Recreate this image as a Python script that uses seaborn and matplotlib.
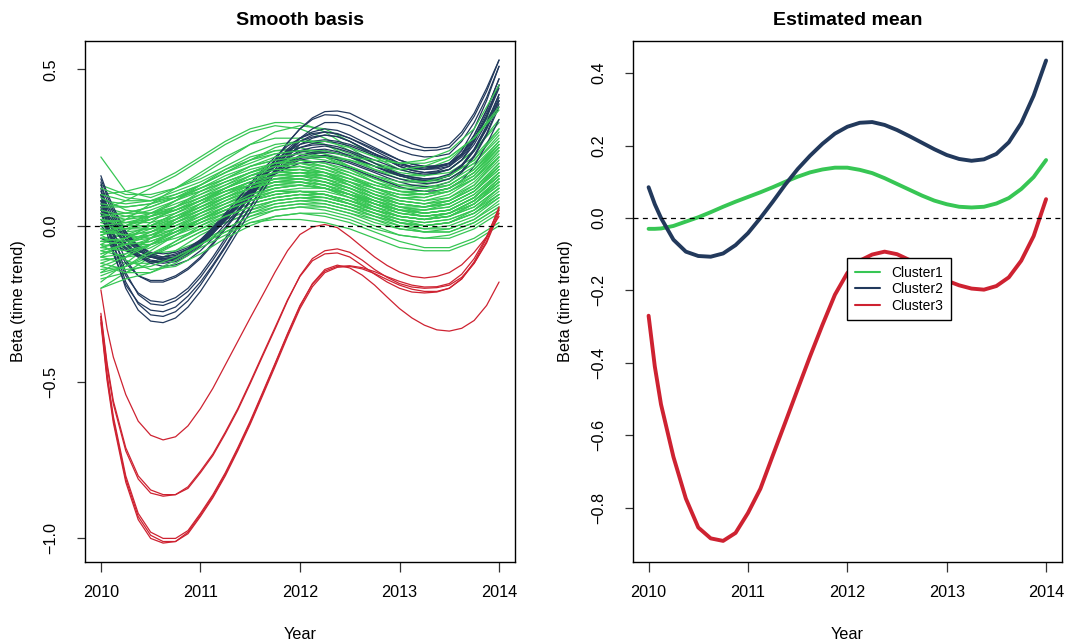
import numpy as np
import pandas as pd
import matplotlib
matplotlib.use("Agg")
import matplotlib.pyplot as plt
from matplotlib.lines import Line2D
import seaborn as sns

# ---------------------------------------------------------------- data
# quarterly grid for the cluster-1 basis curves
year_q = [2010.0, 2010.25, 2010.5, 2010.75, 2011.0, 2011.25, 2011.5, 2011.75,
          2012.0, 2012.25, 2012.5, 2012.75, 2013.0, 2013.25, 2013.5, 2013.75, 2014.0]

# eighth-of-a-year grid (plus one extra point after the start) for cluster 2/3 curves and the means
year_e = [2010.0, 2010.0625, 2010.125, 2010.25, 2010.375, 2010.5, 2010.625, 2010.75, 2010.875,
          2011.0, 2011.125, 2011.25, 2011.375, 2011.5, 2011.625, 2011.75, 2011.875,
          2012.0, 2012.125, 2012.25, 2012.375, 2012.5, 2012.625, 2012.75, 2012.875,
          2013.0, 2013.125, 2013.25, 2013.375, 2013.5, 2013.625, 2013.75, 2013.875, 2014.0]

cluster1_curves = [
    [0.22, 0.11, 0.09, 0.12, 0.16, 0.21, 0.26, 0.30, 0.32, 0.31, 0.27, 0.22, 0.18, 0.16, 0.17, 0.22, 0.31],
    [0.10, 0.11, 0.13, 0.17, 0.22, 0.27, 0.31, 0.33, 0.33, 0.30, 0.25, 0.20, 0.16, 0.14, 0.15, 0.20, 0.29],
    [0.05, 0.08, 0.12, 0.16, 0.21, 0.26, 0.30, 0.32, 0.31, 0.28, 0.24, 0.20, 0.17, 0.16, 0.18, 0.24, 0.34],
    [0.13, 0.10, 0.10, 0.12, 0.15, 0.19, 0.23, 0.26, 0.27, 0.26, 0.23, 0.20, 0.18, 0.18, 0.21, 0.28, 0.40],
    [-0.02, 0.02, 0.07, 0.12, 0.17, 0.22, 0.26, 0.28, 0.28, 0.26, 0.22, 0.18, 0.15, 0.14, 0.16, 0.21, 0.30],
    [0.08, 0.07, 0.08, 0.11, 0.14, 0.18, 0.21, 0.23, 0.24, 0.23, 0.21, 0.18, 0.16, 0.16, 0.18, 0.24, 0.33],
    [0.04, 0.04, 0.06, 0.09, 0.13, 0.17, 0.21, 0.24, 0.25, 0.23, 0.19, 0.15, 0.12, 0.11, 0.13, 0.18, 0.27],
    [-0.06, -0.02, 0.03, 0.08, 0.13, 0.18, 0.22, 0.24, 0.24, 0.22, 0.18, 0.14, 0.11, 0.10, 0.12, 0.17, 0.26],
    [0.02, 0.03, 0.05, 0.08, 0.11, 0.14, 0.17, 0.20, 0.21, 0.20, 0.18, 0.15, 0.13, 0.13, 0.15, 0.20, 0.28],
    [-0.10, -0.05, 0.01, 0.06, 0.11, 0.15, 0.19, 0.21, 0.21, 0.19, 0.16, 0.12, 0.09, 0.08, 0.09, 0.13, 0.21],
    [0.06, 0.04, 0.04, 0.06, 0.09, 0.12, 0.15, 0.18, 0.19, 0.18, 0.16, 0.13, 0.11, 0.10, 0.12, 0.16, 0.24],
    [-0.04, -0.03, 0.00, 0.04, 0.08, 0.12, 0.16, 0.19, 0.20, 0.19, 0.16, 0.12, 0.09, 0.08, 0.10, 0.15, 0.24],
    [0.00, 0.00, 0.02, 0.05, 0.08, 0.11, 0.14, 0.16, 0.17, 0.16, 0.14, 0.11, 0.09, 0.09, 0.11, 0.16, 0.25],
    [-0.15, -0.10, -0.04, 0.02, 0.07, 0.12, 0.16, 0.18, 0.19, 0.17, 0.14, 0.10, 0.07, 0.06, 0.07, 0.11, 0.19],
    [0.03, 0.01, 0.01, 0.03, 0.06, 0.09, 0.12, 0.15, 0.16, 0.15, 0.13, 0.10, 0.08, 0.07, 0.08, 0.12, 0.19],
    [-0.07, -0.05, -0.02, 0.02, 0.06, 0.10, 0.14, 0.16, 0.17, 0.16, 0.13, 0.10, 0.07, 0.06, 0.07, 0.11, 0.18],
    [-0.01, -0.02, -0.01, 0.02, 0.05, 0.08, 0.11, 0.14, 0.15, 0.14, 0.12, 0.09, 0.07, 0.06, 0.08, 0.13, 0.22],
    [-0.12, -0.09, -0.04, 0.01, 0.05, 0.09, 0.13, 0.15, 0.16, 0.15, 0.12, 0.09, 0.06, 0.05, 0.06, 0.10, 0.17],
    [0.01, -0.01, -0.01, 0.01, 0.04, 0.07, 0.10, 0.12, 0.13, 0.12, 0.10, 0.08, 0.06, 0.06, 0.08, 0.12, 0.20],
    [-0.05, -0.05, -0.03, 0.00, 0.04, 0.07, 0.10, 0.13, 0.14, 0.13, 0.11, 0.08, 0.05, 0.04, 0.05, 0.09, 0.16],
    [-0.09, -0.07, -0.04, -0.01, 0.03, 0.07, 0.11, 0.13, 0.14, 0.13, 0.10, 0.07, 0.04, 0.03, 0.04, 0.08, 0.15],
    [-0.02, -0.04, -0.03, -0.01, 0.02, 0.05, 0.08, 0.11, 0.12, 0.12, 0.10, 0.08, 0.06, 0.05, 0.06, 0.10, 0.17],
    [-0.18, -0.12, -0.06, -0.01, 0.04, 0.08, 0.11, 0.13, 0.13, 0.12, 0.09, 0.06, 0.03, 0.02, 0.03, 0.07, 0.14],
    [-0.06, -0.07, -0.05, -0.02, 0.01, 0.05, 0.08, 0.10, 0.11, 0.10, 0.08, 0.05, 0.03, 0.02, 0.04, 0.08, 0.15],
    [0.00, -0.03, -0.04, -0.02, 0.01, 0.04, 0.07, 0.09, 0.10, 0.10, 0.08, 0.06, 0.04, 0.03, 0.04, 0.07, 0.13],
    [-0.11, -0.10, -0.07, -0.03, 0.01, 0.04, 0.07, 0.09, 0.10, 0.09, 0.07, 0.04, 0.01, 0.00, 0.01, 0.05, 0.12],
    [-0.04, -0.06, -0.06, -0.04, -0.01, 0.02, 0.05, 0.08, 0.09, 0.09, 0.07, 0.05, 0.03, 0.02, 0.03, 0.06, 0.12],
    [-0.20, -0.15, -0.10, -0.05, 0.00, 0.04, 0.07, 0.09, 0.10, 0.09, 0.07, 0.04, 0.02, 0.01, 0.02, 0.05, 0.11],
    [-0.08, -0.10, -0.09, -0.06, -0.02, 0.01, 0.04, 0.07, 0.08, 0.08, 0.06, 0.04, 0.02, 0.01, 0.02, 0.05, 0.10],
    [-0.14, -0.13, -0.10, -0.06, -0.02, 0.02, 0.05, 0.07, 0.08, 0.07, 0.05, 0.02, 0.00, -0.01, 0.00, 0.03, 0.09],
    [-0.03, -0.07, -0.09, -0.08, -0.05, -0.01, 0.03, 0.06, 0.07, 0.07, 0.05, 0.03, 0.01, 0.00, 0.01, 0.04, 0.09],
    [-0.17, -0.15, -0.12, -0.08, -0.03, 0.01, 0.04, 0.06, 0.07, 0.06, 0.04, 0.01, -0.01, -0.02, -0.01, 0.02, 0.07],
    [-0.10, -0.12, -0.12, -0.10, -0.06, -0.02, 0.02, 0.05, 0.06, 0.06, 0.04, 0.02, -0.01, -0.02, -0.02, 0.01, 0.06],
    [-0.20, -0.17, -0.15, -0.11, -0.06, -0.01, 0.03, 0.05, 0.06, 0.05, 0.03, 0.00, -0.03, -0.04, -0.03, 0.00, 0.05],
    [-0.06, -0.11, -0.14, -0.13, -0.09, -0.04, 0.00, 0.03, 0.04, 0.04, 0.02, -0.01, -0.03, -0.04, -0.04, -0.01, 0.04],
    [-0.13, -0.15, -0.15, -0.12, -0.07, -0.03, 0.01, 0.03, 0.04, 0.03, 0.01, -0.02, -0.05, -0.07, -0.07, -0.04, 0.01],
    [0.07, 0.06, 0.07, 0.10, 0.13, 0.17, 0.20, 0.23, 0.24, 0.24, 0.22, 0.21, 0.20, 0.21, 0.24, 0.31, 0.45],
    [0.12, 0.09, 0.08, 0.09, 0.11, 0.14, 0.17, 0.20, 0.22, 0.22, 0.21, 0.19, 0.18, 0.19, 0.22, 0.28, 0.38],
    [-0.03, 0.00, 0.04, 0.08, 0.12, 0.16, 0.19, 0.21, 0.22, 0.21, 0.19, 0.16, 0.14, 0.14, 0.16, 0.21, 0.31],
    [0.04, 0.02, 0.03, 0.05, 0.08, 0.11, 0.13, 0.15, 0.15, 0.14, 0.11, 0.08, 0.05, 0.04, 0.05, 0.09, 0.17],
    [-0.08, -0.06, -0.03, 0.01, 0.05, 0.09, 0.12, 0.14, 0.14, 0.12, 0.09, 0.05, 0.02, 0.00, 0.01, 0.04, 0.10],
    [0.00, 0.01, 0.03, 0.06, 0.10, 0.14, 0.17, 0.19, 0.19, 0.17, 0.13, 0.09, 0.06, 0.04, 0.05, 0.09, 0.16],
    [-0.05, -0.04, -0.01, 0.03, 0.07, 0.11, 0.14, 0.16, 0.16, 0.14, 0.11, 0.07, 0.04, 0.03, 0.04, 0.08, 0.14],
    [0.02, 0.00, 0.00, 0.02, 0.05, 0.09, 0.12, 0.14, 0.15, 0.14, 0.12, 0.09, 0.07, 0.06, 0.07, 0.11, 0.19],
    [-0.16, -0.13, -0.08, -0.03, 0.02, 0.06, 0.09, 0.11, 0.11, 0.10, 0.07, 0.04, 0.01, -0.01, -0.01, 0.02, 0.08],
    [-0.01, -0.03, -0.02, 0.00, 0.03, 0.06, 0.09, 0.11, 0.11, 0.10, 0.08, 0.05, 0.03, 0.02, 0.03, 0.07, 0.14],
    [0.09, 0.05, 0.04, 0.05, 0.08, 0.11, 0.14, 0.17, 0.18, 0.17, 0.15, 0.12, 0.10, 0.10, 0.12, 0.17, 0.25],
    [-0.07, -0.08, -0.06, -0.03, 0.00, 0.03, 0.06, 0.08, 0.09, 0.08, 0.06, 0.03, 0.00, -0.02, -0.02, 0.01, 0.06],
    [-0.12, -0.14, -0.13, -0.10, -0.06, -0.02, 0.01, 0.02, 0.02, 0.01, -0.01, -0.04, -0.07, -0.08, -0.08, -0.05, 0.00],
    [-0.04, -0.05, -0.04, -0.01, 0.02, 0.06, 0.09, 0.12, 0.13, 0.12, 0.10, 0.07, 0.04, 0.03, 0.04, 0.08, 0.14],
    [0.03, 0.04, 0.06, 0.09, 0.12, 0.15, 0.18, 0.20, 0.20, 0.18, 0.15, 0.12, 0.10, 0.09, 0.11, 0.15, 0.23],
    [-0.03, -0.01, 0.02, 0.05, 0.09, 0.13, 0.17, 0.20, 0.21, 0.20, 0.17, 0.14, 0.11, 0.10, 0.11, 0.15, 0.22],
    [0.05, 0.03, 0.03, 0.05, 0.08, 0.12, 0.16, 0.19, 0.20, 0.19, 0.17, 0.14, 0.12, 0.12, 0.14, 0.19, 0.27],
    [-0.09, -0.06, -0.02, 0.02, 0.06, 0.10, 0.13, 0.15, 0.15, 0.13, 0.10, 0.06, 0.03, 0.02, 0.03, 0.07, 0.13],
    [0.01, 0.02, 0.04, 0.07, 0.10, 0.13, 0.16, 0.18, 0.18, 0.16, 0.13, 0.10, 0.08, 0.07, 0.09, 0.14, 0.22],
    [-0.02, -0.03, -0.02, 0.01, 0.04, 0.08, 0.12, 0.15, 0.16, 0.16, 0.14, 0.12, 0.10, 0.10, 0.12, 0.17, 0.25],
    [-0.13, -0.10, -0.06, -0.02, 0.02, 0.06, 0.10, 0.12, 0.13, 0.12, 0.10, 0.07, 0.05, 0.04, 0.05, 0.09, 0.16],
    [0.06, 0.06, 0.07, 0.09, 0.12, 0.15, 0.19, 0.22, 0.23, 0.22, 0.19, 0.16, 0.13, 0.12, 0.13, 0.18, 0.26],
    [-0.05, -0.06, -0.05, -0.02, 0.02, 0.05, 0.08, 0.10, 0.11, 0.11, 0.09, 0.07, 0.05, 0.05, 0.07, 0.11, 0.18],
    [0.00, -0.01, 0.00, 0.03, 0.06, 0.09, 0.12, 0.14, 0.14, 0.13, 0.10, 0.07, 0.05, 0.04, 0.05, 0.09, 0.16],
    [-0.07, -0.04, 0.00, 0.04, 0.08, 0.12, 0.15, 0.17, 0.18, 0.17, 0.14, 0.11, 0.08, 0.07, 0.08, 0.12, 0.20],
    [0.02, 0.01, 0.02, 0.04, 0.07, 0.10, 0.13, 0.16, 0.17, 0.17, 0.15, 0.13, 0.11, 0.11, 0.13, 0.18, 0.26],
    [-0.10, -0.09, -0.06, -0.02, 0.02, 0.05, 0.08, 0.10, 0.11, 0.10, 0.08, 0.05, 0.03, 0.02, 0.03, 0.06, 0.12],
    [0.10, 0.08, 0.08, 0.10, 0.13, 0.17, 0.21, 0.25, 0.27, 0.27, 0.25, 0.22, 0.20, 0.20, 0.22, 0.28, 0.37],
    [-0.02, 0.00, 0.03, 0.06, 0.09, 0.12, 0.15, 0.17, 0.17, 0.15, 0.12, 0.08, 0.05, 0.03, 0.04, 0.08, 0.15],
    [-0.15, -0.13, -0.09, -0.05, -0.01, 0.03, 0.06, 0.08, 0.09, 0.08, 0.06, 0.03, 0.01, 0.00, 0.01, 0.04, 0.10],
]

cluster2_curves = [
    [0.10, 0.0, -0.08, -0.20, -0.27, -0.305, -0.31, -0.295, -0.26, -0.21, -0.15, -0.085, -0.02, 0.045, 0.11, 0.17, 0.22, 0.26, 0.28, 0.29, 0.285, 0.27, 0.25, 0.23, 0.21, 0.19, 0.177, 0.17, 0.175, 0.19, 0.23, 0.29, 0.37, 0.47],
    [0.12, 0.02, -0.06, -0.18, -0.25, -0.285, -0.29, -0.275, -0.24, -0.19, -0.13, -0.07, -0.005, 0.06, 0.125, 0.18, 0.23, 0.27, 0.29, 0.30, 0.295, 0.28, 0.26, 0.24, 0.22, 0.20, 0.187, 0.18, 0.185, 0.20, 0.24, 0.31, 0.40, 0.51],
    [0.06, -0.025, -0.09, -0.19, -0.245, -0.27, -0.275, -0.26, -0.225, -0.18, -0.125, -0.065, 0.0, 0.06, 0.125, 0.18, 0.235, 0.28, 0.31, 0.33, 0.33, 0.32, 0.30, 0.28, 0.26, 0.24, 0.227, 0.22, 0.222, 0.23, 0.27, 0.33, 0.41, 0.51],
    [0.14, 0.045, -0.03, -0.15, -0.22, -0.25, -0.255, -0.24, -0.21, -0.165, -0.11, -0.05, 0.015, 0.08, 0.15, 0.21, 0.265, 0.31, 0.34, 0.355, 0.353, 0.34, 0.32, 0.30, 0.28, 0.26, 0.247, 0.24, 0.242, 0.25, 0.29, 0.35, 0.43, 0.53],
    [0.08, 0.0, -0.06, -0.16, -0.215, -0.24, -0.245, -0.23, -0.20, -0.155, -0.10, -0.04, 0.02, 0.085, 0.15, 0.21, 0.265, 0.31, 0.345, 0.365, 0.367, 0.36, 0.34, 0.32, 0.30, 0.28, 0.262, 0.25, 0.25, 0.26, 0.30, 0.36, 0.44, 0.53],
    [0.10, 0.035, -0.02, -0.11, -0.16, -0.18, -0.18, -0.165, -0.14, -0.105, -0.06, -0.01, 0.04, 0.095, 0.15, 0.20, 0.245, 0.28, 0.30, 0.31, 0.305, 0.29, 0.27, 0.25, 0.23, 0.21, 0.197, 0.19, 0.19, 0.20, 0.23, 0.29, 0.37, 0.47],
    [0.04, -0.01, -0.05, -0.12, -0.16, -0.175, -0.175, -0.16, -0.135, -0.10, -0.055, -0.005, 0.045, 0.10, 0.152, 0.20, 0.24, 0.27, 0.284, 0.29, 0.285, 0.27, 0.25, 0.23, 0.21, 0.19, 0.177, 0.17, 0.172, 0.18, 0.21, 0.27, 0.35, 0.45],
    [0.16, 0.105, 0.06, -0.02, -0.07, -0.095, -0.105, -0.10, -0.08, -0.05, -0.01, 0.035, 0.085, 0.135, 0.18, 0.22, 0.255, 0.28, 0.295, 0.30, 0.293, 0.28, 0.263, 0.245, 0.227, 0.21, 0.197, 0.19, 0.192, 0.20, 0.23, 0.28, 0.36, 0.45],
    [0.10, 0.057, 0.02, -0.04, -0.08, -0.10, -0.11, -0.105, -0.085, -0.055, -0.015, 0.03, 0.075, 0.12, 0.163, 0.20, 0.23, 0.25, 0.258, 0.26, 0.253, 0.24, 0.225, 0.21, 0.195, 0.18, 0.17, 0.165, 0.168, 0.18, 0.21, 0.26, 0.33, 0.42],
    [0.05, 0.018, -0.01, -0.06, -0.095, -0.115, -0.12, -0.115, -0.095, -0.065, -0.025, 0.02, 0.065, 0.11, 0.153, 0.19, 0.218, 0.24, 0.25, 0.255, 0.247, 0.235, 0.218, 0.20, 0.182, 0.165, 0.155, 0.15, 0.152, 0.16, 0.19, 0.24, 0.31, 0.40],
    [0.13, 0.082, 0.04, -0.03, -0.075, -0.10, -0.11, -0.105, -0.085, -0.055, -0.02, 0.025, 0.07, 0.115, 0.155, 0.19, 0.215, 0.235, 0.242, 0.245, 0.237, 0.225, 0.208, 0.19, 0.174, 0.16, 0.15, 0.145, 0.148, 0.16, 0.19, 0.24, 0.31, 0.40],
    [0.02, -0.006, -0.03, -0.07, -0.10, -0.12, -0.13, -0.125, -0.11, -0.08, -0.04, 0.005, 0.05, 0.095, 0.138, 0.175, 0.203, 0.225, 0.235, 0.24, 0.232, 0.22, 0.205, 0.19, 0.174, 0.16, 0.15, 0.145, 0.148, 0.16, 0.19, 0.245, 0.32, 0.42],
    [0.08, 0.042, 0.01, -0.045, -0.08, -0.10, -0.105, -0.10, -0.085, -0.06, -0.025, 0.015, 0.06, 0.10, 0.138, 0.17, 0.193, 0.21, 0.217, 0.22, 0.212, 0.20, 0.185, 0.17, 0.154, 0.14, 0.13, 0.125, 0.128, 0.14, 0.17, 0.22, 0.29, 0.38],
    [-0.04, -0.05, -0.06, -0.08, -0.095, -0.10, -0.10, -0.09, -0.075, -0.05, -0.015, 0.025, 0.065, 0.105, 0.143, 0.175, 0.202, 0.22, 0.23, 0.235, 0.23, 0.22, 0.205, 0.19, 0.177, 0.165, 0.156, 0.15, 0.153, 0.165, 0.195, 0.245, 0.315, 0.41],
    [0.11, 0.067, 0.03, -0.03, -0.065, -0.085, -0.09, -0.085, -0.07, -0.045, -0.01, 0.03, 0.07, 0.11, 0.145, 0.175, 0.198, 0.215, 0.222, 0.225, 0.217, 0.205, 0.19, 0.175, 0.162, 0.15, 0.14, 0.135, 0.138, 0.15, 0.175, 0.225, 0.295, 0.39],
    [0.00, -0.021, -0.04, -0.075, -0.10, -0.115, -0.115, -0.105, -0.085, -0.055, -0.02, 0.02, 0.06, 0.10, 0.135, 0.165, 0.185, 0.20, 0.204, 0.205, 0.197, 0.185, 0.17, 0.155, 0.14, 0.125, 0.115, 0.11, 0.112, 0.12, 0.145, 0.19, 0.26, 0.34],
    [0.07, 0.032, 0.00, -0.055, -0.09, -0.11, -0.115, -0.11, -0.09, -0.06, -0.02, 0.025, 0.07, 0.115, 0.157, 0.195, 0.227, 0.25, 0.263, 0.27, 0.265, 0.255, 0.24, 0.225, 0.21, 0.195, 0.185, 0.18, 0.182, 0.19, 0.22, 0.27, 0.345, 0.44],
    [0.15, 0.095, 0.05, -0.02, -0.065, -0.09, -0.10, -0.095, -0.075, -0.045, -0.005, 0.04, 0.085, 0.13, 0.172, 0.21, 0.238, 0.26, 0.27, 0.275, 0.27, 0.26, 0.245, 0.23, 0.215, 0.20, 0.19, 0.185, 0.187, 0.195, 0.225, 0.275, 0.35, 0.45],
]

cluster3_curves = [
    [-0.205, -0.33, -0.42, -0.54, -0.625, -0.67, -0.685, -0.675, -0.64, -0.585, -0.52, -0.445, -0.37, -0.295, -0.222, -0.148, -0.08, -0.028, -0.004, 0.004, -0.006, -0.035, -0.068, -0.10, -0.127, -0.148, -0.162, -0.167, -0.162, -0.15, -0.125, -0.085, -0.035, 0.03],
    [-0.28, -0.44, -0.56, -0.71, -0.80, -0.845, -0.86, -0.86, -0.84, -0.79, -0.735, -0.665, -0.59, -0.505, -0.417, -0.33, -0.24, -0.16, -0.105, -0.08, -0.074, -0.085, -0.11, -0.14, -0.165, -0.185, -0.196, -0.20, -0.198, -0.19, -0.165, -0.12, -0.055, 0.04],
    [-0.29, -0.45, -0.57, -0.72, -0.81, -0.855, -0.865, -0.86, -0.835, -0.785, -0.73, -0.66, -0.585, -0.50, -0.412, -0.325, -0.237, -0.162, -0.112, -0.09, -0.087, -0.10, -0.127, -0.155, -0.18, -0.20, -0.212, -0.215, -0.212, -0.20, -0.17, -0.12, -0.05, 0.05],
    [-0.30, -0.485, -0.62, -0.81, -0.93, -0.99, -1.01, -1.01, -0.985, -0.93, -0.87, -0.80, -0.72, -0.635, -0.543, -0.45, -0.355, -0.265, -0.195, -0.15, -0.133, -0.13, -0.138, -0.153, -0.172, -0.19, -0.203, -0.21, -0.21, -0.20, -0.17, -0.115, -0.04, 0.06],
    [-0.29, -0.475, -0.61, -0.80, -0.92, -0.98, -1.00, -1.00, -0.975, -0.92, -0.86, -0.79, -0.71, -0.625, -0.533, -0.44, -0.345, -0.255, -0.187, -0.145, -0.13, -0.128, -0.134, -0.147, -0.163, -0.178, -0.19, -0.196, -0.195, -0.185, -0.155, -0.105, -0.035, 0.055],
    [-0.31, -0.495, -0.63, -0.82, -0.94, -1.00, -1.015, -1.01, -0.98, -0.925, -0.865, -0.795, -0.715, -0.63, -0.537, -0.443, -0.348, -0.258, -0.185, -0.14, -0.126, -0.135, -0.158, -0.19, -0.228, -0.265, -0.295, -0.318, -0.333, -0.337, -0.328, -0.303, -0.255, -0.18],
]

cluster_names = ["Cluster1", "Cluster2", "Cluster3"]
mean_cluster1 = [-0.030, -0.030, -0.029, -0.022, -0.010, 0.002, 0.016, 0.031, 0.045, 0.058, 0.071, 0.085,
                 0.100, 0.114, 0.126, 0.134, 0.139, 0.139, 0.133, 0.124, 0.110, 0.094, 0.078,
                 0.062, 0.048, 0.038, 0.031, 0.029, 0.031, 0.040, 0.055, 0.080, 0.113, 0.160]
mean_cluster2 = [0.085, 0.038, 0.000, -0.060, -0.093, -0.105, -0.107, -0.098, -0.075, -0.042, 0.000, 0.045,
                 0.092, 0.135, 0.172, 0.205, 0.233, 0.252, 0.263, 0.265, 0.257, 0.243, 0.226,
                 0.208, 0.190, 0.174, 0.163, 0.158, 0.162, 0.177, 0.209, 0.262, 0.338, 0.435]
mean_cluster3 = [-0.270, -0.410, -0.515, -0.660, -0.775, -0.855, -0.885, -0.892, -0.870, -0.815, -0.748, -0.656,
                 -0.565, -0.473, -0.382, -0.295, -0.212, -0.152, -0.118, -0.101, -0.093, -0.100, -0.116,
                 -0.137, -0.157, -0.173, -0.186, -0.195, -0.198, -0.188, -0.164, -0.118, -0.050, 0.052]

year_ticks = [2010, 2011, 2012, 2013, 2014]
left_yticks = [-1.0, -0.5, 0.0, 0.5]
right_yticks = [-0.8, -0.6, -0.4, -0.2, 0.0, 0.2, 0.4]

# ---------------------------------------------------------------- style
GREEN, NAVY, RED = "#37C654", "#22395C", "#CE2231"

sns.set_theme(style="white")
plt.rcParams.update({
    "font.family": ["Liberation Sans", "DejaVu Sans"],
    "text.color": "black",
    "axes.labelcolor": "black",
    "axes.titlecolor": "black",
    "axes.edgecolor": "black",
    "axes.linewidth": 1.0,
    "xtick.bottom": True,
    "ytick.left": True,
    "xtick.major.size": 7,
    "ytick.major.size": 6,
    "xtick.major.width": 0.9,
    "ytick.major.width": 0.9,
    "xtick.color": "#333333",
    "ytick.color": "#333333",
    "xtick.labelcolor": "black",
    "ytick.labelcolor": "black",
    "xtick.labelsize": 11.7,
    "ytick.labelsize": 11.7,
})


def long_frame(rows, years, offset=0):
    recs = []
    for i, row in enumerate(rows):
        for y, v in zip(years, row):
            recs.append({"year": y, "beta": v, "curve": i + offset})
    return pd.DataFrame(recs)


def style_axes(ax, title, yticks, ylim):
    ax.set_xlim(2009.84, 2014.16)
    ax.set_ylim(*ylim)
    ax.set_xticks(year_ticks)
    ax.set_yticks(yticks)
    ax.set_xticklabels([str(t) for t in year_ticks])
    ax.set_yticklabels([f"{t:.1f}".replace("-", "\u2212") for t in yticks])
    ax.tick_params(axis="x", pad=10)
    ax.tick_params(axis="y", pad=13, labelrotation=90)
    for lab in ax.get_yticklabels():
        lab.set_va("center")
    ax.set_xlabel("Year", fontsize=11.7, labelpad=19)
    ax.set_ylabel("Beta (time trend)", fontsize=11.7, labelpad=13)
    ax.set_title(title, fontsize=14, fontweight="bold", pad=11.5)
    ax.axhline(0, color="black", lw=0.9, ls=(0, (4, 3.5)), zorder=10)
    for sp in ax.spines.values():
        sp.set_visible(True)
        sp.set_color("black")


fig = plt.figure(figsize=(10.74, 6.43), dpi=100)
ax1 = fig.add_axes([0.0791, 0.1267, 0.4004, 0.8096])
ax2 = fig.add_axes([0.5891, 0.1267, 0.3997, 0.8096])

# ---------------------------------------------------------------- left: individual smooth curves
g1 = long_frame(cluster1_curves[:33], year_q)
g2 = long_frame(cluster1_curves[33:], year_q, 100)
nv = long_frame(cluster2_curves, year_e)
rd = long_frame(cluster3_curves, year_e)
line_kw = dict(x="year", y="beta", units="curve", estimator=None, sort=False,
               legend=False, ax=ax1, lw=0.9)
sns.lineplot(data=g1, color=GREEN, **line_kw)
sns.lineplot(data=nv, color=NAVY, **line_kw)
sns.lineplot(data=g2, color=GREEN, **line_kw)
sns.lineplot(data=rd, color=RED, **line_kw)
style_axes(ax1, "Smooth basis", left_yticks, (-1.074, 0.591))

# ---------------------------------------------------------------- right: estimated cluster means
means = pd.DataFrame({
    "year": year_e * 3,
    "beta": mean_cluster1 + mean_cluster2 + mean_cluster3,
    "cluster": [c for c in cluster_names for _ in year_e],
})
sns.lineplot(data=means, x="year", y="beta", hue="cluster", hue_order=cluster_names,
             palette=[GREEN, NAVY, RED], lw=2.8, sort=False, legend=False, ax=ax2)
style_axes(ax2, "Estimated mean", right_yticks, (-0.949, 0.489))

handles = [Line2D([], [], color=c, lw=1.5) for c in (GREEN, NAVY, RED)]
leg = ax2.legend(handles, cluster_names, loc="upper left", bbox_to_anchor=(0.5, 0.583),
                 borderaxespad=0, fontsize=10, frameon=True, fancybox=False,
                 edgecolor="black", framealpha=1, handlelength=1.8, handletextpad=0.8,
                 borderpad=0.55, labelspacing=0.18)
leg.get_frame().set_linewidth(1.0)

fig.savefig("out.png", dpi=100)
